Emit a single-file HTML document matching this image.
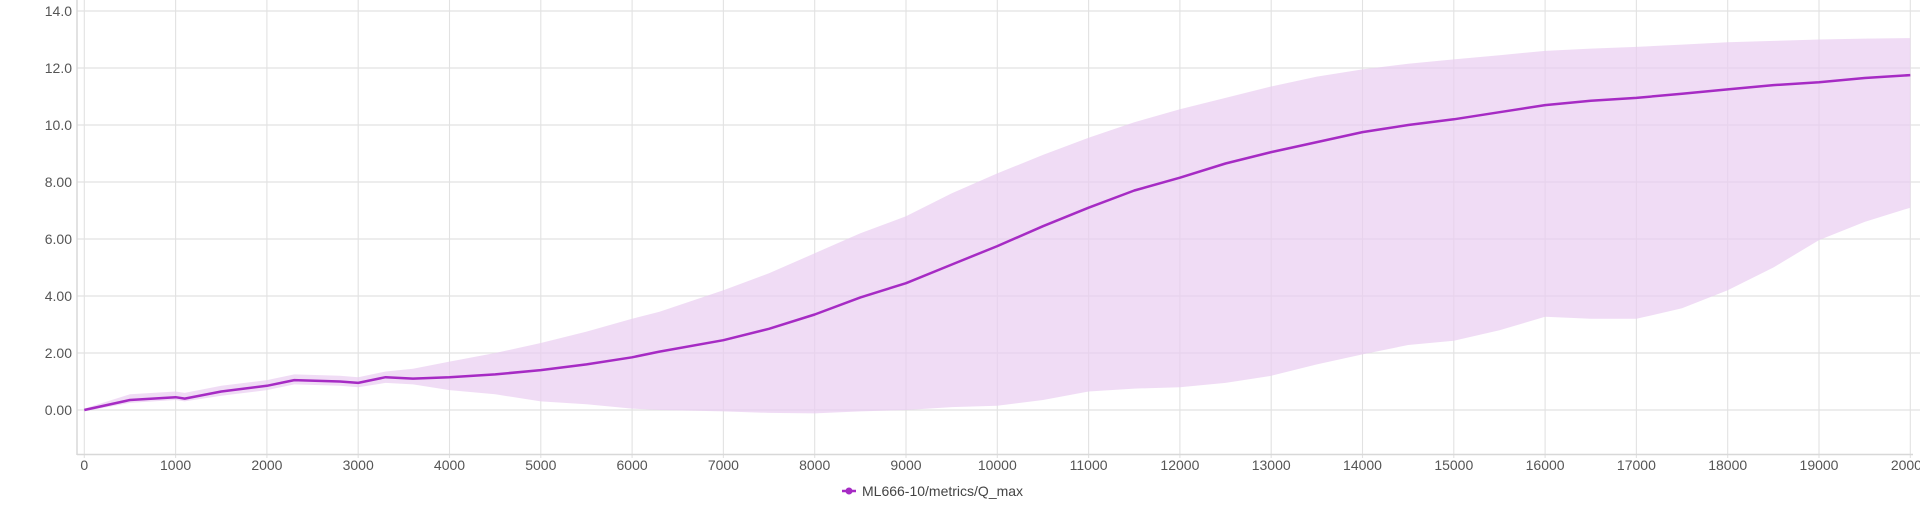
<!DOCTYPE html>
<html><head><meta charset="utf-8"><style>
html,body{margin:0;padding:0;background:#fff;width:1920px;height:511px;overflow:hidden}
svg text{font-family:"Liberation Sans",sans-serif;fill:#555;font-size:14px}
</style></head><body>
<svg id="chart" width="1920" height="511" xmlns="http://www.w3.org/2000/svg">
<g id="grid"></g>
<path id="band" fill="#e9cdf1" fill-opacity="0.7" stroke="none"></path>
<path id="line" fill="none" stroke="#a62bc4" stroke-width="2.5" stroke-linejoin="round"></path>
<g id="axes"></g>
<g>
<line x1="842" y1="491" x2="856" y2="491" stroke="#a62bc4" stroke-width="2.5"/>
<circle cx="849" cy="491" r="3.5" fill="#a62bc4"/>
<text x="862" y="496" style="fill:#444">ML666-10/metrics/Q_max</text>
</g>
</svg>
<script>
const steps=[0,500,1000,1100,1500,2000,2300,2800,3000,3300,3600,4000,4500,5000,5500,6000,6300,7000,7500,8000,8500,9000,9500,10000,10500,11000,11500,12000,12500,13000,13500,14000,14500,15000,15500,16000,16500,17000,17500,18000,18500,19000,19500,20000];
const meanVals=[0,0.35,0.45,0.4,0.65,0.85,1.05,1.0,0.95,1.15,1.1,1.15,1.25,1.4,1.6,1.85,2.05,2.45,2.85,3.35,3.95,4.45,5.1,5.75,6.45,7.1,7.7,8.15,8.65,9.05,9.4,9.75,10.0,10.2,10.45,10.7,10.85,10.95,11.1,11.25,11.4,11.5,11.65,11.75];
const upperVals=[0.05,0.55,0.65,0.6,0.85,1.05,1.25,1.2,1.15,1.35,1.45,1.7,2.0,2.35,2.75,3.2,3.45,4.2,4.8,5.5,6.2,6.8,7.6,8.3,8.95,9.55,10.1,10.55,10.95,11.35,11.7,11.95,12.15,12.3,12.45,12.6,12.68,12.74,12.82,12.9,12.95,13.0,13.03,13.05];
const lowerVals=[-0.05,0.25,0.35,0.3,0.5,0.7,0.9,0.85,0.8,0.95,0.9,0.7,0.55,0.3,0.2,0.05,0.0,-0.05,-0.1,-0.12,-0.05,0.0,0.1,0.15,0.35,0.65,0.75,0.8,0.95,1.2,1.6,1.95,2.28,2.43,2.8,3.27,3.2,3.2,3.57,4.2,5.0,5.96,6.6,7.1];
const xTicks=[0,1000,2000,3000,4000,5000,6000,7000,8000,9000,10000,11000,12000,13000,14000,15000,16000,17000,18000,19000,20000];
const yTicks=[0,2,4,6,8,10,12,14];
const yTickLabels=["0.00","2.00","4.00","6.00","8.00","10.0","12.0","14.0"];
const X=v=>84.3+v*0.0913, Y=v=>410-28.5*v;
const NS="http://www.w3.org/2000/svg";
const grid=document.getElementById('grid'), axes=document.getElementById('axes');
function mk(tag,attrs,parent){const e=document.createElementNS(NS,tag);for(const k in attrs)e.setAttribute(k,attrs[k]);parent.appendChild(e);return e;}
yTicks.forEach((t,i)=>{
  const l=mk('line',{x1:77,x2:1920,y1:Y(t),y2:Y(t),stroke:'#e2e2e2','stroke-width':1.3},grid);
  
  
  const tx=mk('text',{x:72,y:Y(t)+5,'text-anchor':'end'},axes);
  tx.textContent=yTickLabels[i];
  
  
});
xTicks.forEach(t=>{
  const l=mk('line',{x1:X(t),x2:X(t),y1:0,y2:458,stroke:'#e2e2e2','stroke-width':1.1},grid);
  
  
  const tx=mk('text',{x:X(t),y:470,'text-anchor':'middle'},axes);
  tx.textContent=String(t);
  
  
});
const ax=mk('line',{x1:77,x2:77,y1:0,y2:455,stroke:'#d8d8d8','stroke-width':1.5},axes);


const bx=mk('line',{x1:77,x2:1913,y1:454.5,y2:454.5,stroke:'#d8d8d8','stroke-width':1.5},axes);


let d='';steps.forEach((s,i)=>{d+=(i?'L':'M')+X(s).toFixed(1)+','+Y(upperVals[i]).toFixed(1);});
for(let i=steps.length-1;i>=0;i--)d+='L'+X(steps[i]).toFixed(1)+','+Y(lowerVals[i]).toFixed(1);
document.getElementById('band').setAttribute('d',d+'Z');
let m='';steps.forEach((s,i)=>{m+=(i?'L':'M')+X(s).toFixed(1)+','+Y(meanVals[i]).toFixed(1);});
document.getElementById('line').setAttribute('d',m);
</script>
</body></html>
